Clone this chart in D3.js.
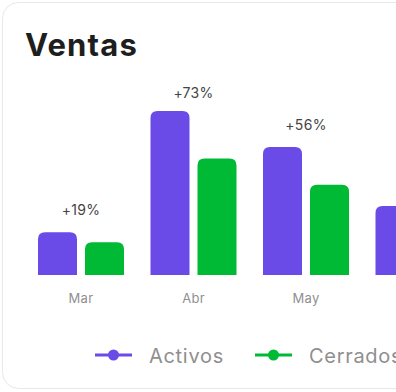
<!DOCTYPE html>
<html>
<head>
<meta charset="utf-8">
<script src="https://cdn.jsdelivr.net/npm/d3@7"></script>
<style>
  html, body { margin: 0; padding: 0; background: #fff; overflow: hidden; }
  svg { display: block; }
</style>
</head>
<body>
<script>
var months = ["Mar", "Abr", "May", "Jun"];
var activos = [26, 100, 78, 42];
var cerrados = [20, 71, 55, 30];
var growth = ["+19%", "+73%", "+56%", null];
var seriesNames = ["Activos", "Cerrados"];
var seriesColors = ["#6b4be7", "#00b934"];

var W = 396, H = 392;
var baseY = 275;

var svg = d3.select("body").append("svg")
    .attr("width", W)
    .attr("height", H);

// card
svg.append("rect")
    .attr("x", 2.5).attr("y", 2.5)
    .attr("width", 460).attr("height", 386)
    .attr("rx", 16)
    .attr("fill", "#fff")
    .attr("stroke", "#e8e8e8");

svg.append("text")
    .attr("x", 25).attr("y", 56)
    .attr("font-family", "Inter, 'Open Sans', sans-serif")
    .attr("font-weight", 700)
    .attr("font-size", 31)
    .attr("letter-spacing", 1.2)
    .attr("fill", "#1e1e1e")
    .text("Ventas");

var x0 = d3.scaleBand().domain(months)
    .range([38, 38 + 112.5 * 3 + 86])
    .paddingInner(26.5 / 112.5).paddingOuter(0);
var x1 = d3.scaleBand().domain(seriesNames)
    .range([0, x0.bandwidth()])
    .paddingInner(8 / 47);
var y = d3.scaleLinear().domain([0, 100]).range([baseY, baseY - 164]);

var data = months.map(function(m, i) {
  return { month: m, values: [activos[i], cerrados[i]], growth: growth[i] };
});

function topRounded(x, yTop, w, h, r) {
  r = Math.min(r, h, w / 2);
  return "M" + x + "," + (yTop + h) +
    "V" + (yTop + r) +
    "Q" + x + "," + yTop + " " + (x + r) + "," + yTop +
    "H" + (x + w - r) +
    "Q" + (x + w) + "," + yTop + " " + (x + w) + "," + (yTop + r) +
    "V" + (yTop + h) + "Z";
}

var g = svg.selectAll(".grp").data(data)
  .enter().append("g").attr("class", "grp")
    .attr("transform", function(d) { return "translate(" + x0(d.month) + ",0)"; });

g.selectAll("path").data(function(d) {
    return d.values.map(function(v, j) { return { name: seriesNames[j], v: v, c: seriesColors[j] }; });
  })
  .enter().append("path")
    .attr("fill", function(d) { return d.c; })
    .attr("d", function(d) {
      return topRounded(x1(d.name), y(d.v), x1.bandwidth(), baseY - y(d.v), 7);
    });

// growth labels sit above the purple bar, kept inside the plot top
g.filter(function(d) { return d.growth; }).append("text")
    .attr("x", x0.bandwidth() / 2)
    .attr("y", function(d) { return Math.max(98, y(d.values[0]) - 17); })
    .attr("text-anchor", "middle")
    .attr("font-family", "Inter, 'Open Sans', sans-serif")
    .attr("font-size", 14)
    .attr("letter-spacing", 0.3)
    .attr("fill", "#444")
    .text(function(d) { return d.growth; });

// month labels, only those that fall inside the view
g.filter(function(d) { return x0(d.month) + x0.bandwidth() / 2 < W - 20; }).append("text")
    .attr("x", x0.bandwidth() / 2)
    .attr("y", 303)
    .attr("text-anchor", "middle")
    .attr("font-family", "Inter, 'Open Sans', sans-serif")
    .attr("font-size", 13)
    .attr("letter-spacing", 0.3)
    .attr("fill", "#8f8f8f")
    .text(function(d) { return d.month; });

// legend
var legX = [95, 255];
var lg = svg.selectAll(".leg").data(seriesNames)
  .enter().append("g").attr("class", "leg")
    .attr("transform", function(d, i) { return "translate(" + legX[i] + ",355)"; });
lg.append("line")
    .attr("x1", 0).attr("x2", 37)
    .attr("stroke", function(d, i) { return seriesColors[i]; })
    .attr("stroke-width", 3);
lg.append("circle")
    .attr("cx", 18.5).attr("r", 5.5)
    .attr("fill", function(d, i) { return seriesColors[i]; });
lg.append("text")
    .attr("x", 54).attr("y", 7.5)
    .attr("font-family", "Inter, 'Open Sans', sans-serif")
    .attr("font-size", 20)
    .attr("letter-spacing", 0.7)
    .attr("fill", "#8f8f8f")
    .text(function(d) { return d; });
</script>
</body>
</html>
